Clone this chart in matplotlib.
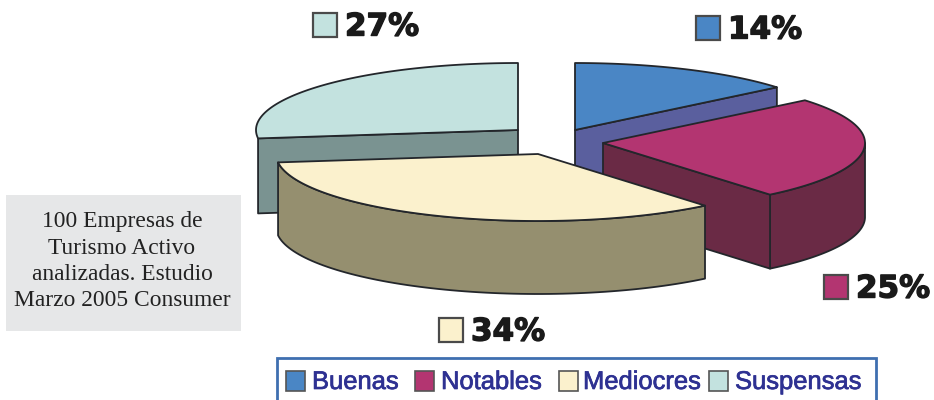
import numpy as np
import matplotlib
matplotlib.use("Agg")
import matplotlib.pyplot as plt
from matplotlib.patches import Polygon, Rectangle
import matplotlib.patheffects as pe

categories = ["Buenas", "Notables", "Mediocres", "Suspensas"]
values = [14, 25, 34, 27]
pct_labels = ["14%", "25%", "34%", "27%"]
note_lines = ["100 Empresas de", "Turismo Activo", "analizadas. Estudio", "Marzo 2005 Consumer"]

top_colors = ["#4a86c5", "#b33571", "#fbf1cd", "#c3e2df"]
side_colors = ["#5a5f9e", "#6a2a45", "#958f6f", "#7a9391"]
centers = [(575, 130), (603, 143), (538, 154), (518, 130)]
depths = [76, 74, 73, 75]
label_pos = [(696, 16), (824, 275), (439, 318), (313, 13)]
legend_sq_x = [286, 415, 559, 709]
legend_txt_x = [312, 441, 583, 735]
RX, RY = 262, 67
EDGE = "#23262b"

fig = plt.figure(figsize=(9.34, 4.0), dpi=100)
ax = fig.add_axes([0, 0, 1, 1])
ax.set_xlim(0, 934)
ax.set_ylim(400, 0)
ax.axis("off")

bounds = np.concatenate([[0], np.cumsum(values)]) / sum(values) * 360


def rim(c, a0, a1, n=80):
    t = np.radians(np.linspace(a0, a1, n))
    return np.column_stack([c[0] + RX * np.sin(t), c[1] - RY * np.cos(t)])


def draw_poly(pts, fc, z, lw=1.3):
    ax.add_patch(Polygon(pts, closed=True, facecolor=fc, edgecolor=EDGE, lw=lw,
                         joinstyle="round", zorder=z))


def cut_face(c, a, d, fc, z):
    p = rim(c, a, a, 1)[0]
    draw_poly([c, p, (p[0], p[1] + d), (c[0], c[1] + d)], fc, z)


def rim_wall(c, a0, a1, d, fc, z):
    arc = rim(c, a0, a1)
    draw_poly(np.vstack([arc, (arc + [0, d])[::-1]]), fc, z)


def top_face(c, a0, a1, fc, z):
    draw_poly(np.vstack([[c], rim(c, a0, a1)]), fc, z)


# Slice 3 (Suspensas) and slice 0 (Buenas) sit at the back
cut_face(centers[3], bounds[3], depths[3], side_colors[3], 2)
top_face(centers[3], bounds[3], bounds[4], top_colors[3], 3)
cut_face(centers[0], bounds[1], depths[0], side_colors[0], 2)
top_face(centers[0], bounds[0], bounds[1], top_colors[0], 3)

# Notables
rim_wall(centers[1], 90, bounds[2], depths[1], side_colors[1], 4)
cut_face(centers[1], bounds[2], depths[1], side_colors[1], 4)
top_face(centers[1], bounds[1], bounds[2], top_colors[1], 5)

# Mediocres in front
rim_wall(centers[2], bounds[2], bounds[3], depths[2], side_colors[2], 6)
top_face(centers[2], bounds[2], bounds[3], top_colors[2], 7)

# Percent labels
for (x, y), lab, col in zip(label_pos, pct_labels, top_colors):
    ax.add_patch(Rectangle((x, y), 24, 24, facecolor=col, edgecolor="#4a4a4a", lw=1.6, zorder=8))
    ax.text(x + 32, y + 14, lab, fontsize=22.3, fontweight="bold", family="DejaVu Sans",
            color="#1a1a1a", ha="left", va="center", zorder=8,
            path_effects=[pe.withStroke(linewidth=1.0, foreground="#1a1a1a")])

# Note box
ax.add_patch(Rectangle((6, 195), 235, 136, facecolor="#e6e7e8", edgecolor="none", zorder=1))
for yy, line in zip([221, 248, 275, 301], note_lines):
    ax.text(122, yy, line, fontsize=16.9, family="Liberation Serif", color="#222222",
            ha="center", va="center", zorder=2)

# Legend
ax.plot([277, 277, 876, 876], [402, 358, 358, 402], color="#3f6fb0", lw=2, zorder=8,
        solid_joinstyle="miter")
for sx, tx, cat, col in zip(legend_sq_x, legend_txt_x, categories, top_colors):
    ax.add_patch(Rectangle((sx, 371), 19, 20, facecolor=col, edgecolor="#555555", lw=1.2, zorder=8))
    ax.text(tx, 382, cat, fontsize=18.4, family="Liberation Sans", color="#2e3192",
            ha="left", va="center", zorder=8,
            path_effects=[pe.withStroke(linewidth=0.5, foreground="#2e3192")])

fig.savefig("out.png", dpi=100, facecolor="white")
